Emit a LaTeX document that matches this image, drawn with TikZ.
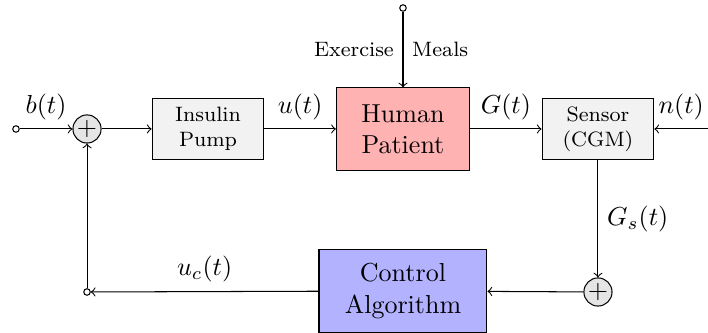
\documentclass[tikz,border=0pt]{standalone}
\usepackage{amsmath}
\usepackage{tikz}
\usetikzlibrary{arrows}

\begin{document}
\begin{tikzpicture}[
    block/.style={draw, fill=gray!10, minimum width=1.51cm, minimum height=0.82cm, align=center, font=\footnotesize},
    bigblock/.style={draw, minimum width=1.8cm, minimum height=1.11cm, align=center},
    sumnode/.style={draw, circle, fill=gray!20, inner sep=0pt, minimum size=0.38cm},
    endpt/.style={draw, circle, fill=white, inner sep=0pt, minimum size=2.5pt}]
            % frame
            \useasboundingbox (0,0) rectangle (9.568,4.5);

            % blocks
            \node[block] (pump) at (2.811,2.757) {Insulin\\Pump};
            \node[bigblock, fill=red!30] (patient) at (5.446,2.757) {Human\\Patient};
            \node[block] (sensor) at (8.081,2.757) {Sensor\\(CGM)};
            \node[bigblock, fill=blue!30, minimum width=2.27cm] (ctrl) at (5.446,0.568) {Control\\Algorithm};

            % summing junctions
            \node[sumnode] (sumin) at (1.176,2.757) {$+$};
            \node[sumnode] (sumout) at (8.081,0.554) {$+$};

            % free ends
            \node[endpt] (bin) at (0.216,2.757) {};
            \node[endpt] (dist) at (5.446,4.392) {};
            \node[endpt] (ucpt) at (1.176,0.554) {};
            \coordinate (nin) at (9.568,2.757);

            % forward path
            \draw[->] (bin) -- node[above] {$b(t)$} (sumin);
            \draw[->] (sumin) -- (pump);
            \draw[->] (pump) -- node[above] {$u(t)$} (patient);
            \draw[->] (patient) -- node[above] {$G(t)$} (sensor);
            \draw[->] (nin) -- node[above] {$n(t)$} (sensor);
            \draw[->] (dist) -- node[left, font=\footnotesize] {Exercise} node[right, font=\footnotesize] {Meals} (patient);

            % feedback path
            \draw[->] (sensor) -- node[right] {$G_s(t)$} (sumout);
            \draw[->] (sumout) -- (ctrl);
            \draw[->] (ctrl) -- node[above] {$u_c(t)$} (ucpt);
            \draw[->] (ucpt) -- (sumin);

        \end{tikzpicture}
\end{document}
